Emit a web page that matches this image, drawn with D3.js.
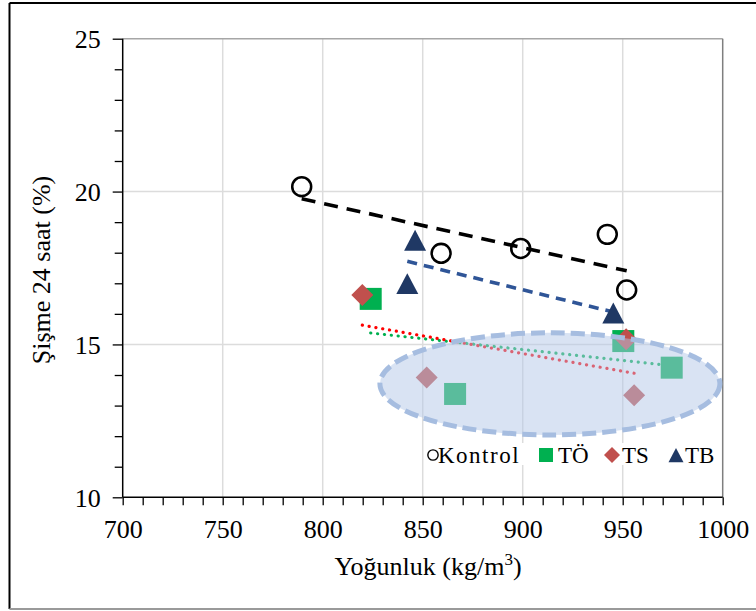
<!DOCTYPE html>
<html>
<head>
<meta charset="utf-8">
<script src="https://cdn.jsdelivr.net/npm/d3@7"></script>
<style>
  html, body { margin: 0; padding: 0; background: #fff; }
  svg { display: block; }
  text { font-family: "Liberation Serif", "Times New Roman", serif; fill: #000; }
</style>
</head>
<body>
<svg id="chart" width="756" height="611"></svg>
<script>
// Density (kg/m3) vs 24 h thickness swelling (%)
const xMajorTicks = [700, 750, 800, 850, 900, 950, 1000];
const yMajorTicks = [10, 15, 20, 25];

const kontrolX = [789.5, 859.2, 899.0, 942.3, 952.0];
const kontrolY = [20.16, 17.98, 18.14, 18.60, 16.78];

const toX = [824.0, 950.3, 866.2, 974.5];
const toY = [16.49, 15.11, 13.38, 14.24];

const tsX = [819.8, 951.7, 852.0, 955.7];
const tsY = [16.62, 15.17, 13.92, 13.34];

const tbX = [846.2, 842.3, 945.3];
const tbY = [18.41, 16.99, 16.03];

const seriesNames = ["Kontrol", "TÖ", "TS", "TB"];

// Highlight ellipse, in data units: centre, half-width, half-height
const highlightCentre = [913.6, 13.71];
const highlightRadii = [85, 1.67];

const svg = d3.select("#chart");
const W = 756, H = 611;
const plot = { left: 122.7, right: 722.7, top: 38.7, bottom: 497.3 };

const x = d3.scaleLinear().domain([700, 1000]).range([plot.left, plot.right]);
const y = d3.scaleLinear().domain([10, 25]).range([plot.bottom, plot.top]);

// outer frame (cropped on the right)
svg.append("line").attr("x1", 9.5).attr("x2", W).attr("y1", 3).attr("y2", 3)
  .attr("stroke", "#000").attr("stroke-width", 2);
svg.append("line").attr("x1", 9.5).attr("x2", 9.5).attr("y1", 3).attr("y2", 609)
  .attr("stroke", "#000").attr("stroke-width", 2);
svg.append("line").attr("x1", 9.5).attr("x2", W).attr("y1", 609).attr("y2", 609)
  .attr("stroke", "#9a9a9a").attr("stroke-width", 2);

// gridlines
const grid = svg.append("g");
grid.selectAll("line.vx").data(xMajorTicks.filter(d => d > 700 && d < 1000)).enter()
  .append("line")
  .attr("x1", d => x(d)).attr("x2", d => x(d))
  .attr("y1", plot.top).attr("y2", plot.bottom)
  .attr("stroke", "#dcdcdc").attr("stroke-width", 1.5);
grid.selectAll("line.hy").data(yMajorTicks.filter(d => d > 10 && d < 25)).enter()
  .append("line")
  .attr("x1", plot.left).attr("x2", plot.right)
  .attr("y1", d => y(d)).attr("y2", d => y(d))
  .attr("stroke", "#dcdcdc").attr("stroke-width", 1.5);

// plot-area border (top and right)
svg.append("line").attr("x1", plot.left).attr("x2", plot.right)
  .attr("y1", plot.top).attr("y2", plot.top)
  .attr("stroke", "#a6a6a6").attr("stroke-width", 1.5);
svg.append("line").attr("x1", plot.right).attr("x2", plot.right)
  .attr("y1", plot.top).attr("y2", plot.bottom)
  .attr("stroke", "#7f7f7f").attr("stroke-width", 1.5);

// axes: major ticks with labels, minor ticks without
const xMinor = d3.range(700, 1001, 10);
const yMinor = d3.range(10, 25.01, 1);

const xAxisG = svg.append("g").attr("transform", `translate(0,${plot.bottom})`);
xAxisG.call(d3.axisBottom(x).tickValues(xMinor).tickSize(8).tickFormat(""));
xAxisG.call(g => g.selectAll(".tick line").attr("stroke", "#000").attr("stroke-width", 1.3));
xAxisG.select(".domain").attr("stroke", "#000").attr("stroke-width", 1.5)
  .attr("d", `M${plot.left},0H${plot.right}`);
const xLab = svg.append("g").attr("transform", `translate(0,${plot.bottom})`)
  .call(d3.axisBottom(x).tickValues(xMajorTicks).tickSize(0).tickPadding(0).tickFormat(d3.format("d")));
xLab.select(".domain").remove();
xLab.selectAll("text").attr("font-size", 26).attr("dy", null).attr("y", 41)
  .attr("font-family", "Liberation Serif, serif").attr("fill", "#000");

const yAxisG = svg.append("g").attr("transform", `translate(${plot.left},0)`);
yAxisG.call(d3.axisLeft(y).tickValues(yMinor).tickSize(8).tickFormat(""));
yAxisG.call(g => g.selectAll(".tick line").attr("stroke", "#000").attr("stroke-width", 1.3)
  .attr("x2", d => yMajorTicks.includes(d) ? -10 : -8));
yAxisG.select(".domain").attr("stroke", "#000").attr("stroke-width", 1.5)
  .attr("d", `M0,${plot.top}V${plot.bottom}`);
const yLab = svg.append("g").attr("transform", `translate(${plot.left},0)`)
  .call(d3.axisLeft(y).tickValues(yMajorTicks).tickSize(0).tickPadding(0).tickFormat(d3.format("d")));
yLab.select(".domain").remove();
yLab.selectAll("text").attr("font-size", 26).attr("x", -22).attr("dy", "0.34em")
  .attr("font-family", "Liberation Serif, serif").attr("fill", "#000");

// axis titles
const xt = svg.append("text").attr("x", 428).attr("y", 575).attr("text-anchor", "middle")
  .attr("font-size", 26);
xt.append("tspan").text("Yoğunluk (kg/m");
xt.append("tspan").attr("font-size", 17).attr("dy", -10).text("3");
xt.append("tspan").attr("dy", 10).text(")");

svg.append("text").attr("transform", "translate(50,270) rotate(-90)")
  .attr("text-anchor", "middle").attr("font-size", 26).text("Şişme 24 saat (%)");

// least-squares trend line over the x range of a series
function trend(xs, ys) {
  const n = xs.length;
  const mx = d3.mean(xs), my = d3.mean(ys);
  let sxy = 0, sxx = 0;
  for (let i = 0; i < n; i++) { sxy += (xs[i] - mx) * (ys[i] - my); sxx += (xs[i] - mx) ** 2; }
  const b = sxy / sxx, a = my - b * mx;
  const x0 = d3.min(xs), x1 = d3.max(xs);
  return [[x0, a + b * x0], [x1, a + b * x1]];
}

const series = [
  { name: seriesNames[0], xs: kontrolX, ys: kontrolY, marker: "circle", color: "#000",
    trendColor: "#000", trendWidth: 3.6, dash: "14 9", cap: "butt" },
  { name: seriesNames[1], xs: toX, ys: toY, marker: "square", color: "#00b050",
    trendColor: "#00b050", trendWidth: 3.2, dash: "0.1 6.8", cap: "round" },
  { name: seriesNames[2], xs: tsX, ys: tsY, marker: "diamond", color: "#c0504d",
    trendColor: "#ff0000", trendWidth: 3.2, dash: "0.1 6.8", cap: "round" },
  { name: seriesNames[3], xs: tbX, ys: tbY, marker: "triangle", color: "#1f3864",
    trendColor: "#2f5597", trendWidth: 3.6, dash: "10 7", cap: "butt" }
];

const line = d3.line().x(d => x(d[0])).y(d => y(d[1]));
const trendG = svg.append("g");
series.forEach(s => {
  trendG.append("path").attr("d", line(trend(s.xs, s.ys)))
    .attr("fill", "none").attr("stroke", s.trendColor).attr("stroke-width", s.trendWidth)
    .attr("stroke-dasharray", s.dash).attr("stroke-linecap", s.cap);
});

function drawMarker(g, type, cx, cy, color, size) {
  if (type === "circle") {
    g.append("circle").attr("cx", cx).attr("cy", cy).attr("r", size * 0.43)
      .attr("fill", "none").attr("stroke", color).attr("stroke-width", size * 0.115);
  } else if (type === "square") {
    g.append("rect").attr("x", cx - size / 2).attr("y", cy - size / 2)
      .attr("width", size).attr("height", size).attr("fill", color);
  } else if (type === "diamond") {
    const r = size / 2;
    g.append("path").attr("d", `M${cx},${cy - r}L${cx + r},${cy}L${cx},${cy + r}L${cx - r},${cy}Z`)
      .attr("fill", color);
  } else if (type === "triangle") {
    const w = size, h = size * 0.95;
    g.append("path")
      .attr("d", `M${cx},${cy - h / 2}L${cx + w / 2},${cy + h / 2}L${cx - w / 2},${cy + h / 2}Z`)
      .attr("fill", color);
  }
}

const markG = svg.append("g");
series.forEach(s => {
  s.xs.forEach((xv, i) => drawMarker(markG, s.marker, x(xv), y(s.ys[i]), s.color, 22));
});

// highlight ellipse over the low-swelling group
svg.append("ellipse")
  .attr("cx", x(highlightCentre[0])).attr("cy", y(highlightCentre[1]))
  .attr("rx", x(highlightCentre[0] + highlightRadii[0]) - x(highlightCentre[0]))
  .attr("ry", y(highlightCentre[1] - highlightRadii[1]) - y(highlightCentre[1]))
  .attr("fill", "rgba(180,199,231,0.5)")
  .attr("stroke", "#a6bde0").attr("stroke-width", 5)
  .attr("stroke-dasharray", "14 6");

// legend
const legend = svg.append("g");
legend.append("rect").attr("x", 424).attr("y", 443).attr("width", 294).attr("height", 22)
  .attr("fill", "#fff");
const legendItems = [
  { s: series[0], mx: 433, tx: 438 },
  { s: series[1], mx: 546, tx: 558 },
  { s: series[2], mx: 612, tx: 622 },
  { s: series[3], mx: 676, tx: 685 }
];
const legendSizes = { circle: 12, square: 14, diamond: 16, triangle: 15 };
legendItems.forEach(it => {
  drawMarker(legend, it.s.marker, it.mx, 455, it.s.color, legendSizes[it.s.marker]);
  legend.append("text").attr("x", it.tx).attr("y", 463).attr("font-size", 23)
    .attr("letter-spacing", it.s.name === "Kontrol" ? 1.5 : 0).text(it.s.name);
});
</script>
</body>
</html>
